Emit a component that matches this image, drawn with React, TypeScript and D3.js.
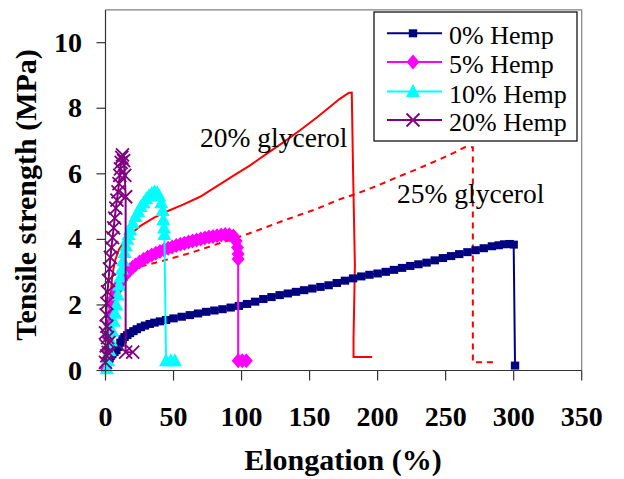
import React from "react";
import * as d3 from "d3";

type Pt = [number, number];

// elongation (%), tensile strength (MPa)
const hemp0: Pt[] = [
  [0, 0.05], [1, 0.2], [2, 0.3], [3, 0.38], [4, 0.45], [5, 0.5], [6.5, 0.56], [8, 0.62],
  [9.5, 0.72], [11, 0.85], [12.5, 0.95], [14, 1.02], [16, 1.08], [18, 1.14], [20.5, 1.2],
  [23, 1.26], [26, 1.32], [29, 1.37], [32.5, 1.42], [36, 1.46], [40, 1.5], [44.5, 1.54],
  [50, 1.59], [56, 1.64], [62, 1.69], [68, 1.74], [74, 1.79], [80, 1.83], [86, 1.87],
  [92, 1.92], [98, 1.97], [104, 2.03], [110, 2.1], [116, 2.18], [122, 2.24], [128, 2.3],
  [134, 2.35], [140, 2.4], [146, 2.45], [152, 2.5], [158, 2.55], [164, 2.6], [170, 2.67],
  [176, 2.74], [182, 2.81], [188, 2.87], [194, 2.92], [200, 2.96], [206, 3.01], [212, 3.07],
  [218, 3.13], [224, 3.19], [230, 3.24], [236, 3.29], [242, 3.36], [248, 3.43], [254, 3.49],
  [260, 3.55], [266, 3.61], [272, 3.67], [278, 3.73], [284, 3.79], [289, 3.82], [293, 3.85],
  [297, 3.86], [300, 3.84], [301, 0.15],
];

const hemp5: Pt[] = [
  [0, 0.1], [1, 0.6], [2, 1.0], [3, 1.4], [4, 1.7], [5, 2.0], [6, 2.2], [8, 2.45], [10, 2.62],
  [12, 2.76], [14, 2.88], [16, 2.98], [18, 3.07], [20, 3.15], [22, 3.22], [25, 3.31],
  [28, 3.39], [31, 3.46], [34, 3.52], [37, 3.58], [40, 3.63], [43, 3.68], [46, 3.73],
  [49, 3.77], [52, 3.81], [55, 3.85], [58, 3.88], [61, 3.92], [64, 3.95], [67, 3.98],
  [70, 4.01], [73, 4.04], [76, 4.07], [79, 4.09], [82, 4.11], [85, 4.13], [88, 4.15],
  [91, 4.14], [94, 4.1], [96, 3.95], [97, 3.75], [97.5, 3.55], [97.5, 3.4], [97.5, 0.3],
  [100.5, 0.3], [103.5, 0.3],
];

const hemp10: Pt[] = [
  [1, 0.05], [2, 0.3], [3, 0.6], [4, 0.9], [5, 1.2], [6, 1.5], [7, 1.75], [8, 2.0], [9, 2.3],
  [10, 2.6], [11, 2.85], [12, 3.1], [13, 3.35], [14, 3.6], [15, 3.8], [16, 4.0], [17, 4.15],
  [18, 4.3], [20, 4.5], [22, 4.7], [24, 4.85], [26, 5.0], [28, 5.12], [30, 5.24], [32, 5.33],
  [34, 5.4], [36, 5.45], [38, 5.42], [39.5, 5.32], [41, 5.12], [42, 4.88], [42.5, 4.6],
  [43, 4.35], [43.3, 4.15], [44.5, 0.3], [48, 0.3], [51, 0.3],
];

const hemp20: Pt[] = [
  [0, 0.25], [1, 0.45], [0.5, 0.75], [2, 0.55], [1.5, 1.0], [0, 1.15], [2.5, 0.85], [1, 1.35],
  [0.5, 1.7], [1, 2.05], [1.5, 2.4], [2.2, 2.75], [2.9, 3.1], [3.6, 3.45], [4.4, 3.75],
  [5.2, 4.05], [6, 4.35], [6.8, 4.65], [7.6, 4.95], [8.4, 5.2], [9.2, 5.45], [9.9, 5.7],
  [10.5, 5.95], [11, 6.15], [11.5, 6.35], [12, 6.5], [12.5, 6.58], [13.3, 6.4], [14.2, 5.95],
  [14.8, 5.3], [14.8, 0.56], [20, 0.56],
];

const glycerol20: Pt[] = [
  [0, 0], [2, 1.2], [3.5, 2.2], [5, 2.9], [7, 3.35], [10, 3.7], [15, 4.0], [20, 4.22],
  [26, 4.42], [36, 4.67], [45, 4.85], [57, 5.06], [69.5, 5.3], [84, 5.68], [95, 5.97],
  [106, 6.25], [118, 6.6], [130.7, 6.96], [143, 7.33], [155.3, 7.72], [163, 7.98],
  [167.5, 8.13], [172, 8.28], [177.4, 8.43], [179, 8.47], [181, 8.48], [182, 6],
  [183.3, 3.2], [182.3, 1], [182.3, 0.41], [196, 0.41],
];

const glycerol25: Pt[] = [
  [0, 0], [2, 1.3], [4, 2.2], [7, 2.7], [12, 3.0], [20, 3.13], [30, 3.22], [40, 3.32],
  [50, 3.44], [62, 3.58], [80, 3.83], [101, 4.11], [116, 4.34], [130.7, 4.57], [143, 4.75],
  [155.3, 4.93], [172, 5.22], [185, 5.4], [200, 5.64], [214, 5.89], [230, 6.16], [246, 6.45],
  [256, 6.64], [264, 6.81], [270, 6.81], [270, 0.25], [285, 0.25],
];

const xTicks = [0, 50, 100, 150, 200, 250, 300, 350];
const yTicks = [0, 2, 4, 6, 8, 10];
const seriesNames = ["0% Hemp", "5% Hemp", "10% Hemp", "20% Hemp"];

const W = 624;
const H = 479;
const serif = '"Liberation Serif", "Times New Roman", serif';

const x = d3.scaleLinear().domain([0, 350]).range([105.5, 581.7]);
const y = d3.scaleLinear().domain([0, 11]).range([370.5, 9.9]);
const line = d3
  .line<Pt>()
  .x((d) => x(d[0]))
  .y((d) => y(d[1]));

type Kind = "square" | "diamond" | "triangle" | "cross";

const series: { name: string; data: Pt[]; color: string; kind: Kind }[] = [
  { name: seriesNames[0], data: hemp0, color: "#000080", kind: "square" },
  { name: seriesNames[1], data: hemp5, color: "#FF00FF", kind: "diamond" },
  { name: seriesNames[2], data: hemp10, color: "#00FFFF", kind: "triangle" },
  { name: seriesNames[3], data: hemp20, color: "#800080", kind: "cross" },
];

function Marker({ kind, cx, cy, color }: { kind: Kind; cx: number; cy: number; color: string }) {
  if (kind === "square")
    return <rect x={cx - 4.2} y={cy - 4} width={8.4} height={8} fill={color} />;
  if (kind === "diamond")
    return <path d={`M${cx},${cy - 7.5}L${cx + 6.5},${cy}L${cx},${cy + 7.5}L${cx - 6.5},${cy}Z`} fill={color} />;
  if (kind === "triangle")
    return <path d={`M${cx},${cy - 7.5}L${cx + 7},${cy + 5.5}L${cx - 7},${cy + 5.5}Z`} fill={color} />;
  return (
    <path
      d={`M${cx - 6.5},${cy - 6.5}L${cx + 6.5},${cy + 6.5}M${cx - 6.5},${cy + 6.5}L${cx + 6.5},${cy - 6.5}`}
      stroke={color}
      strokeWidth={1.8}
      fill="none"
    />
  );
}

export default function App() {
  const legendRows = [33.3, 62, 91.5, 120];
  return (
    <svg
      width={W}
      height={H}
      style={{ position: "absolute", left: 0, top: 0, background: "#fff" }}
      fontFamily={serif}
    >
      {/* plot frame */}
      <path
        d={`M${x(0)},${y(11)}H${x(350)}V${y(0)}`}
        fill="none"
        stroke="#808080"
        strokeWidth={1.2}
      />

      {/* glycerol curves (no markers) */}
      <path d={line(glycerol20) || ""} fill="none" stroke="#FF0000" strokeWidth={2} />
      <path
        d={line(glycerol25) || ""}
        fill="none"
        stroke="#FF0000"
        strokeWidth={2}
        strokeDasharray="6,5"
      />

      {/* hemp series */}
      {series.map((s) => (
        <g key={s.name}>
          <path d={line(s.data) || ""} fill="none" stroke={s.color} strokeWidth={2} />
          {s.data.map((d, i) => (
            <Marker key={i} kind={s.kind} cx={x(d[0])} cy={y(d[1])} color={s.color} />
          ))}
        </g>
      ))}

      {/* axes */}
      <line x1={x(0)} x2={x(0)} y1={y(11)} y2={y(0)} stroke="#333" strokeWidth={1.2} />
      <line x1={x(0)} x2={x(350)} y1={y(0)} y2={y(0)} stroke="#333" strokeWidth={1.2} />
      {yTicks.map((t) => (
        <g key={"y" + t}>
          <line x1={x(0) - 9} x2={x(0)} y1={y(t)} y2={y(t)} stroke="#333" strokeWidth={1.2} />
          <text x={82} y={y(t) + 9} textAnchor="end" fontSize={28} fontWeight="bold">
            {t}
          </text>
        </g>
      ))}
      {xTicks.map((t) => (
        <g key={"x" + t}>
          <line x1={x(t)} x2={x(t)} y1={y(0)} y2={y(0) + 10} stroke="#333" strokeWidth={1.2} />
          <text x={x(t)} y={426} textAnchor="middle" fontSize={28} fontWeight="bold">
            {t}
          </text>
        </g>
      ))}

      {/* axis titles */}
      <text x={343} y={470} textAnchor="middle" fontSize={30} fontWeight="bold">
        Elongation (%)
      </text>
      <text
        transform="translate(36,195) rotate(-90)"
        textAnchor="middle"
        fontSize={30}
        fontWeight="bold"
      >
        Tensile strength (MPa)
      </text>

      {/* annotations */}
      <text x={200} y={147} fontSize={27.5}>
        20% glycerol
      </text>
      <text x={397} y={203} fontSize={27.5}>
        25% glycerol
      </text>

      {/* legend */}
      <rect x={374} y={12} width={203} height={129} fill="#fff" stroke="#000" strokeWidth={1.2} />
      {series.map((s, i) => (
        <g key={"l" + s.name}>
          <line x1={387} x2={442} y1={legendRows[i]} y2={legendRows[i]} stroke={s.color} strokeWidth={2} />
          <Marker kind={s.kind} cx={413} cy={legendRows[i]} color={s.color} />
          <text x={449} y={legendRows[i] + 11} fontSize={26}>
            {s.name}
          </text>
        </g>
      ))}
    </svg>
  );
}
